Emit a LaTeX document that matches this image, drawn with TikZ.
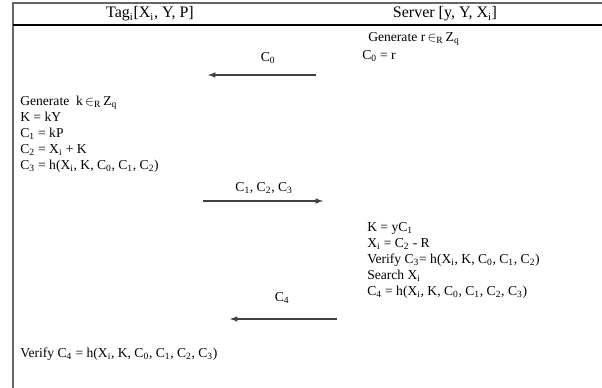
\documentclass[tikz,border=0pt]{standalone}
\usepackage{fontspec}
\setmainfont{Liberation Serif}
\usetikzlibrary{arrows}

\newcommand{\lo}[1]{\textsubscript{#1}}
\newcommand{\inR}{\,$\in$\lo{R}\,}

\tikzset{
	msg/.style={draw=black!75,line width=0.9pt,->,>=latex},
	steps/.style={anchor=north west,align=left,inner sep=0pt,
		font=\fontsize{10.2}{12}\selectfont},
	lbl/.style={inner sep=0pt,font=\fontsize{10.2}{12}\selectfont},
	head/.style={inner sep=0pt,font=\fontsize{12}{14}\selectfont}
}

\begin{document}
\begin{tikzpicture}[x=0.75pt,y=-0.75pt]
	\useasboundingbox (0,0) rectangle (602,388);
	% frame of the table
	\draw[black!60,line width=1.2pt] (13,388) -- (13,3) -- (602,3);
	\draw[line width=0.9pt] (13,25) -- (602,25);
	\node[head] (tag) at (150,14) {Tag\lo{i}[X\lo{i}, Y, P]};
	\node[head] (server) at (445,14) {Server [y, Y, X\lo{i}]};

	% server starts
	\node[steps] (gen) at (368,32) {Generate r\inR Z\lo{q}};
	\node[steps] (czero) at (362,50) {C\lo{0} = r};
	\node[lbl] (m0) at (268,58) {C\lo{0}};
	\coordinate (a0) at (316,75);
	\coordinate (b0) at (208,75);
	\draw[msg] (a0) -- (b0);

	% tag answers
	\node[steps] (tagcalc) at (20,96) {Generate \ k\inR Z\lo{q}\\
		K = kY\\
		C\lo{1} = kP\\
		C\lo{2} = X\lo{i} + K\\
		C\lo{3} = h(X\lo{i}, K, C\lo{0}, C\lo{1}, C\lo{2})};
	\node[lbl] (m1) at (264,188) {C\lo{1}, C\lo{2}, C\lo{3}};
	\coordinate (a1) at (203,201);
	\coordinate (b1) at (323,201);
	\draw[msg] (a1) -- (b1);

	% server checks
	\node[steps] (servcalc) at (367,222) {K = yC\lo{1}\\
		X\lo{i} = C\lo{2} - R\\
		Verify C\lo{3}= h(X\lo{i}, K, C\lo{0}, C\lo{1}, C\lo{2})\\
		Search X\lo{i}\\
		C\lo{4} = h(X\lo{i}, K, C\lo{0}, C\lo{1}, C\lo{2}, C\lo{3})};
	\node[lbl] (m2) at (282,298) {C\lo{4}};
	\coordinate (a2) at (337,319);
	\coordinate (b2) at (230,319);
	\draw[msg] (a2) -- (b2);

	\node[steps] (verify) at (20,348) {Verify C\lo{4} = h(X\lo{i}, K, C\lo{0}, C\lo{1}, C\lo{2}, C\lo{3})};
\end{tikzpicture}
\end{document}
